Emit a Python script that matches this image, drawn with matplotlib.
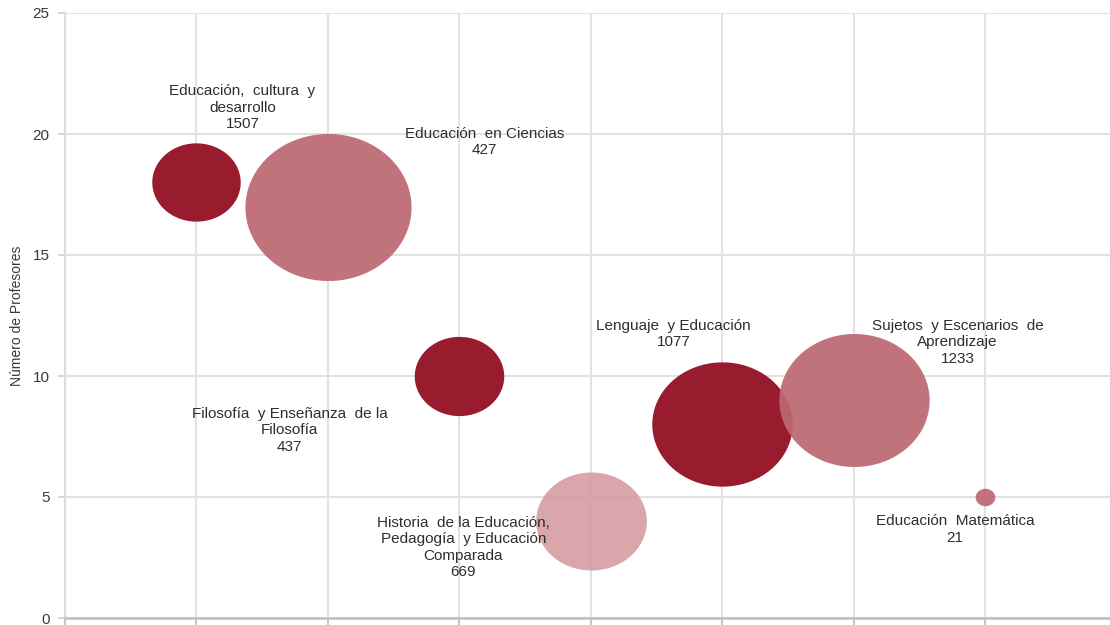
import matplotlib
matplotlib.use("Agg")
import matplotlib.pyplot as plt
import numpy as np
from matplotlib.path import Path

plt.rcParams['font.family'] = ['Liberation Sans', 'DejaVu Sans']

# ---- data ----
x_pos = [1, 2, 3, 4, 5, 6, 7]
profesores = [18, 17, 10, 4, 8, 9, 5]
bubble_size = [427, 1507, 437, 669, 1077, 1233, 21]
bubble_color = ['#991B2E', '#BD6872', '#991B2E', '#D69CA3', '#991B2E', '#BD6872', '#BD6872']
bubble_alpha = [1.0, 0.93, 1.0, 0.9, 1.0, 0.93, 0.93]

label_texts = [
    "Educación,  cultura  y\ndesarrollo\n1507",
    "Educación  en Ciencias\n427",
    "Filosofía  y Enseñanza  de la\nFilosofía\n437",
    "Historia  de la Educación,\nPedagogía  y Educación\nComparada\n669",
    "Lenguaje  y Educación\n1077",
    "Sujetos  y Escenarios  de\nAprendizaje\n1233",
    "Educación  Matemática\n21",
]
# label anchor positions (data coordinates, layout only)
label_xy = [(1.35, 21.08), (3.19, 19.66), (1.71, 7.76), (3.03, 2.91),
            (4.63, 11.74), (6.79, 11.39), (6.77, 3.65)]

y_ticks = [0, 5, 10, 15, 20, 25]

# ---- figure ----
fig = plt.figure(figsize=(11.1, 6.25), dpi=100)
ax = fig.add_axes([65/1110, 7/625, 1 - 65/1110, (618-13)/625])

# elliptical marker (slightly wider than tall)
t = np.linspace(0, 2*np.pi, 100)
verts = np.column_stack([np.cos(t), 0.885*np.sin(t)])
ell = Path(verts, closed=True)

scale = 9.5  # points^2 per unit value
for xi, yi, sz, col, al in zip(x_pos, profesores, bubble_size, bubble_color, bubble_alpha):
    ax.scatter([xi], [yi], s=[sz*scale], c=[col], marker=ell, alpha=al,
               linewidths=0, zorder=3)

for txt, (lx, ly) in zip(label_texts, label_xy):
    ax.text(lx, ly, txt, ha='center', va='center', fontsize=11, color='#2E2E2E',
            linespacing=1.22, zorder=4)

ax.set_xlim(0, 7.95)
ax.set_ylim(0, 25)
ax.set_xticks([0, 1, 2, 3, 4, 5, 6, 7])
ax.set_xticklabels([])
ax.set_yticks(y_ticks)
ax.set_yticklabels([str(v) for v in y_ticks], fontsize=11, color='#3A3A3A')

ax.grid(True, color='#E2E2E2', linewidth=1.5, zorder=0)
ax.set_axisbelow(True)
for s in ['top', 'right']:
    ax.spines[s].set_visible(False)
ax.spines['left'].set_color('#DDDDDD')
ax.spines['left'].set_linewidth(1.5)
ax.spines['bottom'].set_color('#BFBFBF')
ax.spines['bottom'].set_linewidth(1.8)
ax.tick_params(axis='y', length=5, width=1.2, color='#CCCCCC', pad=6)
ax.tick_params(axis='x', length=6, width=1.2, color='#BBBBBB', direction='out')

ax.set_ylabel("Número de Profesores", fontsize=10, color='#3A3A3A', labelpad=6)

fig.savefig("out.png", dpi=100)
